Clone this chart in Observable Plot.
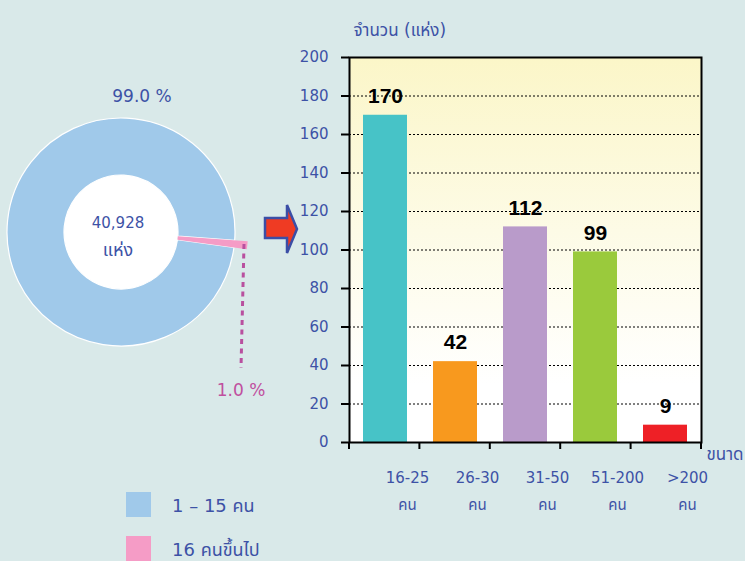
<!DOCTYPE html>
<html>
<head>
<meta charset="utf-8">
<script src="https://cdn.jsdelivr.net/npm/d3@7"></script>
<script src="https://cdn.jsdelivr.net/npm/@observablehq/plot@0.6"></script>
<style>
  html, body { margin: 0; padding: 0; background: #d9e9e9; }
  #chart { width: 745px; height: 561px; overflow: hidden; }
</style>
</head>
<body>
<div id="chart"></div>
<script>
// ---- data ----
const categories = ["16-25", "26-30", "31-50", "51-200", ">200"];
const unitLabel = "คน";
const counts = [170, 42, 112, 99, 9];
const barColors = ["#47c3c7", "#f8991e", "#b99bca", "#9aca3c", "#ee2026"];
const yTicks = [0, 20, 40, 60, 80, 100, 120, 140, 160, 180, 200];
const gridTicks = [20, 40, 60, 80, 100, 120, 140, 160, 180];
const yTitle = "จำนวน (แห่ง)";
const xTitle = "ขนาด";

const donutGroups = ["16 คนขึ้นไป", "1 – 15 คน"];
const donutPercent = [1.0, 99.0];
const donutColors = ["#f59cc6", "#a0c9ea"];
const donutTotal = 40928;
const donutTotalUnit = "แห่ง";
const legendOrder = ["1 – 15 คน", "16 คนขึ้นไป"];

const bars = categories.map((c, i) => ({category: c, count: counts[i], color: barColors[i]}));
const FONT = "DejaVu Sans, Noto Sans, Noto Sans Thai, sans-serif";
const BLUE = "#3d52a6";

// gradient definition for plot area
const defsMark = () => {
  const g = d3.create("svg:g");
  const lg = g.append("defs").append("linearGradient")
    .attr("id", "plotbg").attr("x1", 0).attr("y1", 0).attr("x2", 0).attr("y2", 1);
  lg.append("stop").attr("offset", "0%").attr("stop-color", "#fbf6c8");
  lg.append("stop").attr("offset", "45%").attr("stop-color", "#fdfbe6");
  lg.append("stop").attr("offset", "85%").attr("stop-color", "#ffffff");
  return g.node();
};

// band-boundary ticks on the x axis
const xBoundaryTicks = (index, scales, values, dim) => {
  const g = d3.create("svg:g");
  const n = categories.length;
  const step = (dim.width - dim.marginLeft - dim.marginRight) / n;
  const y0 = dim.height - dim.marginBottom;
  for (let i = 0; i <= n; i++) {
    const x = dim.marginLeft + i * step;
    g.append("line").attr("x1", x).attr("x2", x).attr("y1", y0).attr("y2", y0 + 7)
      .attr("stroke", "black").attr("stroke-width", 2);
  }
  return g.node();
};

// donut, labels, arrow and legend
const donutMark = () => {
  const g = d3.create("svg:g").attr("font-family", FONT).attr("text-anchor", "start");
  const cx = 121, cy = 232, r0 = 57, r1 = 114, r1x = 127;
  const half = donutPercent[0] / 100 * Math.PI; // half of the small slice
  const a0 = (96 * Math.PI / 180) - half;
  const pie = d3.pie().sort(null).value(d => d).startAngle(a0).endAngle(a0 + 2 * Math.PI);
  const arcs = pie(donutPercent);
  const dg = g.append("g").attr("transform", `translate(${cx},${cy})`);
  dg.append("circle").attr("r", r0).attr("fill", "white");
  dg.append("path").attr("d", d3.arc().innerRadius(r0).outerRadius(r1)(arcs[1]))
    .attr("fill", donutColors[1]).attr("stroke", "white").attr("stroke-width", 1.2);
  dg.append("path").attr("d", d3.arc().innerRadius(r0).outerRadius(r1x)(arcs[0]))
    .attr("fill", donutColors[0]);
  const fmt = v => v.toFixed(1) + " %";
  g.append("text").attr("x", cx + 21).attr("y", cy - 136).attr("text-anchor", "middle")
    .attr("dominant-baseline", "central").attr("font-size", 17).attr("fill", BLUE)
    .text(fmt(donutPercent[1]));
  g.append("text").attr("x", cx - 3).attr("y", cy - 9).attr("text-anchor", "middle")
    .attr("dominant-baseline", "central").attr("font-size", 15).attr("fill", BLUE)
    .text(d3.format(",")(donutTotal));
  g.append("text").attr("x", cx - 3).attr("y", cy + 17).attr("text-anchor", "middle")
    .attr("dominant-baseline", "central").attr("font-size", 18).attr("fill", BLUE)
    .text(donutTotalUnit);
  g.append("line").attr("x1", cx + 123).attr("y1", cy + 12).attr("x2", cx + 120).attr("y2", cy + 136)
    .attr("stroke", "#b9509f").attr("stroke-width", 3).attr("stroke-dasharray", "5,4.5");
  g.append("text").attr("x", cx + 120).attr("y", cy + 158).attr("text-anchor", "middle")
    .attr("dominant-baseline", "central").attr("font-size", 17).attr("fill", "#c0509f")
    .text(fmt(donutPercent[0]));
  g.append("path").attr("d", "M265,218 H287 V205 L297,229 L287,253 V238 H265 Z")
    .attr("fill", "#ef3b23").attr("stroke", "#3b4ea6").attr("stroke-width", 2.5)
    .attr("stroke-linejoin", "miter");
  legendOrder.forEach((name, i) => {
    const k = donutGroups.indexOf(name);
    const y = 492 + i * 44;
    g.append("rect").attr("x", 126).attr("y", y).attr("width", 25).attr("height", 25)
      .attr("fill", donutColors[k]);
    g.append("text").attr("x", 172).attr("y", y + 13.5).attr("dominant-baseline", "central")
      .attr("text-anchor", "start").attr("font-size", 18).attr("fill", BLUE).text(name);
  });
  return g.node();
};

const chart = Plot.plot({
  width: 745,
  height: 561,
  marginLeft: 349,
  marginRight: 44,
  marginTop: 57,
  marginBottom: 119,
  style: {background: "#d9e9e9", fontFamily: FONT, overflow: "visible"},
  x: {domain: categories, paddingInner: 0.375, paddingOuter: 0.1875, axis: null},
  y: {domain: [0, 200], axis: null},
  marks: [
    defsMark,
    Plot.frame({fill: "url(#plotbg)", stroke: null}),
    Plot.gridY(gridTicks, {stroke: "black", strokeOpacity: 1, strokeWidth: 1, strokeDasharray: "2,2"}),
    Plot.barY(bars, {x: "category", y: "count", fill: "color"}),
    Plot.frame({stroke: "black", strokeWidth: 2}),
    Plot.axisY(yTicks, {anchor: "left", tickSize: 8, tickPadding: 13, stroke: "black", strokeWidth: 2,
      fill: BLUE, fontSize: 15, label: null}),
    Plot.axisX({anchor: "bottom", tickSize: 0, tickPadding: 21, dx: 22, fill: BLUE, fontSize: 15,
      lineHeight: 1.8, tickFormat: d => d + "\n" + unitLabel, label: null}),
    xBoundaryTicks,
    Plot.text(bars, {x: "category", y: "count", text: d => String(d.count), dy: -19,
      fontFamily: "Liberation Sans, Arial, sans-serif", fontWeight: "bold", fontSize: 21, fill: "black"}),
    Plot.text([yTitle], {frameAnchor: "top-left", dx: 4, dy: -34, textAnchor: "start", fontSize: 17, fill: BLUE}),
    Plot.text([xTitle], {frameAnchor: "bottom-right", dx: 5, dy: 17, textAnchor: "start", fontSize: 17, fill: BLUE}),
    donutMark
  ]
});
document.getElementById("chart").appendChild(chart);
</script>
</body>
</html>
